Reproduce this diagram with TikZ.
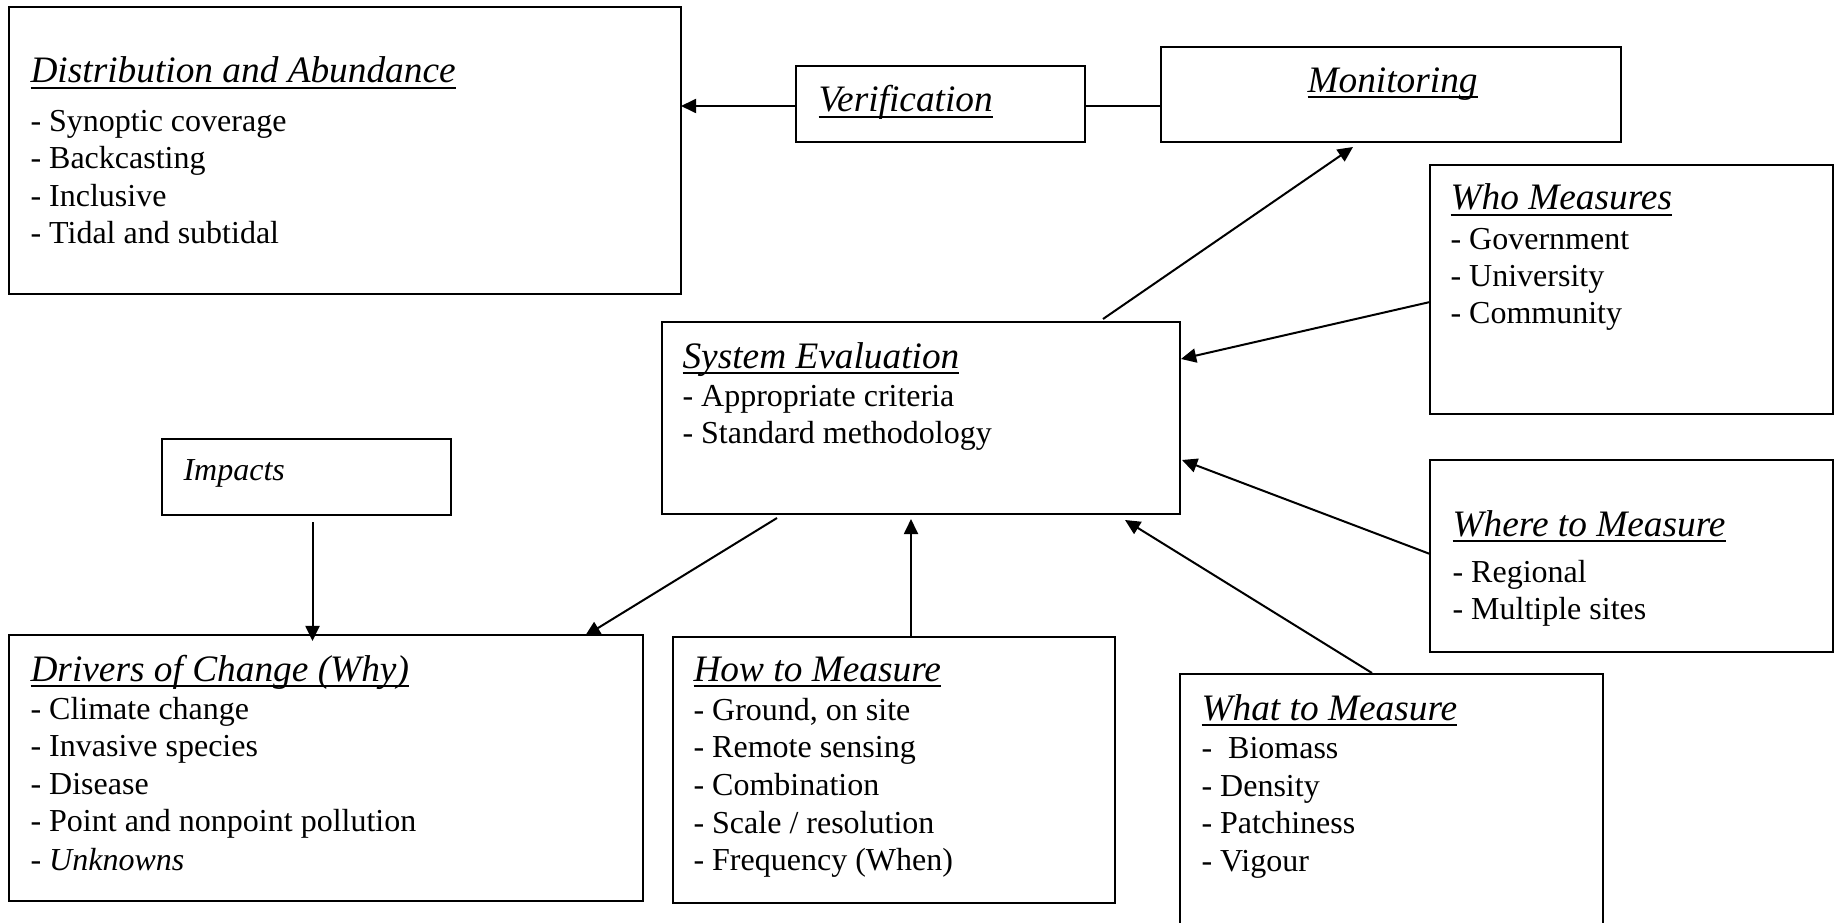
\documentclass[tikz,border=0pt]{standalone}
\usepackage{fontspec}
\setmainfont{Liberation Serif}
\usetikzlibrary{arrows.meta,fit}
\newcommand{\myul}[1]{\setbox0\hbox{#1}\rlap{\rule[-2.1pt]{\wd0}{0.65pt}}\box0}
\begin{document}
\begin{tikzpicture}[x=0.375pt,y=-0.375pt,
  box/.style={draw, line width=0.8pt, inner sep=0pt, rectangle},
  ttl/.style={anchor=base west, inner sep=0pt, font=\fontsize{14pt}{16pt}\selectfont\itshape},
  itm/.style={anchor=base west, inner sep=0pt, font=\fontsize{12pt}{14pt}\selectfont},
  arr/.style={line width=0.75pt, -{Triangle[length=5.7pt,width=5.3pt]}},
  ln/.style={line width=0.75pt}]
\useasboundingbox (0,0) rectangle (1842,923);
\fill[white] (0,0) rectangle (1842,923);
\clip (0,0) rectangle (1842,923);

% boxes
\node[box, fit={(9,7)(681,294)}] (dist) {};
\node[box, fit={(796,66)(1085,142)}] (verif) {};
\node[box, fit={(1161,47)(1621,142)}] (monit) {};
\node[box, fit={(1430,165)(1833,414)}] (who) {};
\node[box, fit={(662,322)(1180,514)}] (se) {};
\node[box, fit={(162,439)(451,515)}] (imp) {};
\node[box, fit={(1430,460)(1833,652)}] (where) {};
\node[box, fit={(9,635)(643,901)}] (drv) {};
\node[box, fit={(673,637)(1115,903)}] (how) {};
\node[box, fit={(1180,674)(1603,960)}] (what) {};

% Distribution
\node[ttl] (dist-t) at (30,83) {\myul{Distribution and Abundance}};
\node[itm] (dist-1) at (30,131.5) {- Synoptic coverage};
\node[itm] (dist-2) at (30,169) {- Backcasting};
\node[itm] (dist-3) at (30,206.5) {- Inclusive};
\node[itm] (dist-4) at (30,244) {- Tidal and subtidal};

% Verification, Monitoring
\node[ttl] (verif-t) at (818,112) {\myul{Verification}};
\node[ttl] (monit-t) at (1307,92.5) {\myul{Monitoring}};

% Who
\node[ttl] (who-t) at (1450,210) {\myul{Who Measures}};
\node[itm] (who-1) at (1450,250) {- Government};
\node[itm] (who-2) at (1450,286.7) {- University};
\node[itm] (who-3) at (1450,323.3) {- Community};

% System Evaluation
\node[ttl] (se-t) at (682,368.3) {\myul{System Evaluation}};
\node[itm] (se-1) at (682,406.5) {- Appropriate criteria};
\node[itm] (se-2) at (682,443.8) {- Standard methodology};

% Impacts
\node[itm, font=\fontsize{12pt}{14pt}\selectfont\itshape] (imp-t) at (183,480.8) {Impacts};

% Where
\node[ttl] (where-t) at (1452,536.4) {\myul{Where to Measure}};
\node[itm] (where-1) at (1452,582.9) {- Regional};
\node[itm] (where-2) at (1452,619.8) {- Multiple sites};

% Drivers
\node[ttl] (drv-t) at (30,681.4) {\myul{Drivers of Change (Why)}};
\node[itm] (drv-1) at (30,719.1) {- Climate change};
\node[itm] (drv-2) at (30,756.4) {- Invasive species};
\node[itm] (drv-3) at (30,794.2) {- Disease};
\node[itm] (drv-4) at (30,831.8) {- Point and nonpoint pollution};
\node[itm, font=\fontsize{12pt}{14pt}\selectfont\itshape] (drv-5) at (30,870.1) {- Unknowns};

% How
\node[ttl] (how-t) at (693,681.4) {\myul{How to Measure}};
\node[itm] (how-1) at (693,720.3) {- Ground, on site};
\node[itm] (how-2) at (693,757.7) {- Remote sensing};
\node[itm] (how-3) at (693,795.8) {- Combination};
\node[itm] (how-4) at (693,833.2) {- Scale / resolution};
\node[itm] (how-5) at (693,870.1) {- Frequency (When)};

% What
\node[ttl] (what-t) at (1201,720.3) {\myul{What to Measure}};
\node[itm] (what-1) at (1201,758.9) {-\ \ Biomass};
\node[itm] (what-2) at (1201,796.6) {- Density};
\node[itm] (what-3) at (1201,833.5) {- Patchiness};
\node[itm] (what-4) at (1201,871.3) {- Vigour};

% connector end points
\coordinate (c-vd) at (681,106);
\coordinate (c-vv) at (796,106);
\coordinate (c-vm1) at (1085,106);
\coordinate (c-vm2) at (1161,106);
\coordinate (c-sm1) at (1103,319);
\coordinate (c-sm2) at (1353,147);
\coordinate (c-ws1) at (1430,302);
\coordinate (c-ws2) at (1181,359);
\coordinate (c-rs1) at (1430,554);
\coordinate (c-rs2) at (1182,460);
\coordinate (c-as1) at (1372,673);
\coordinate (c-as2) at (1125,520);
\coordinate (c-hs1) at (911,636);
\coordinate (c-hs2) at (911,519);
\coordinate (c-sd1) at (777,518);
\coordinate (c-sd2) at (585,636);
\coordinate (c-id1) at (312.5,522);
\coordinate (c-id2) at (312.5,641);

% connectors
\draw[arr] (c-vv) -- (c-vd);
\draw[ln] (c-vm1) -- (c-vm2);
\draw[arr] (c-sm1) -- (c-sm2);
\draw[arr] (c-ws1) -- (c-ws2);
\draw[arr] (c-rs1) -- (c-rs2);
\draw[arr] (c-as1) -- (c-as2);
\draw[arr] (c-hs1) -- (c-hs2);
\draw[arr] (c-sd1) -- (c-sd2);
\draw[arr] (c-id1) -- (c-id2);
\end{tikzpicture}
\end{document}
